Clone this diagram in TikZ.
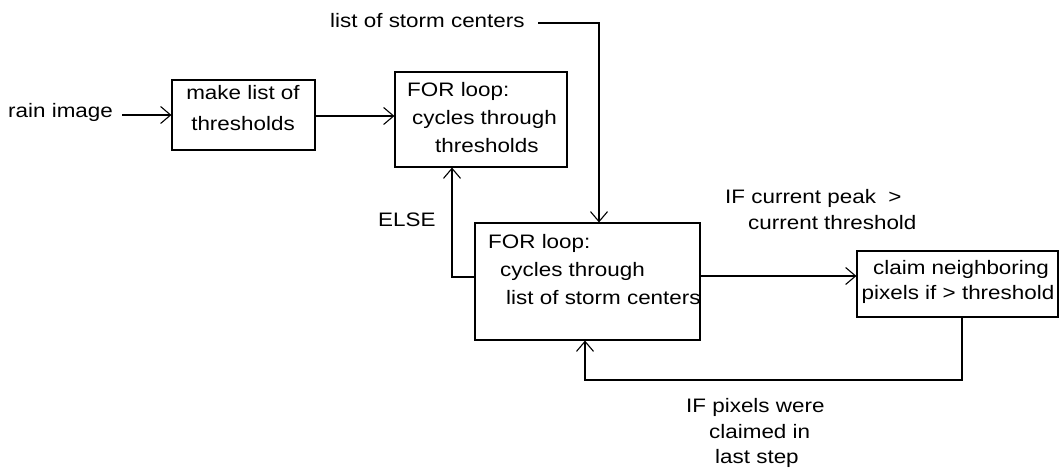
\documentclass[tikz,border=0pt]{standalone}
\usepackage{fontspec}
\setmainfont{Liberation Sans}[FakeStretch=1.15]
\usetikzlibrary{arrows.meta}
\tikzset{
  box/.style={draw, line width=1.1pt, inner sep=0pt},
  txt/.style={anchor=base west, inner sep=0pt, font=\fontsize{19.5}{28}\selectfont},
  ctxt/.style={anchor=base, inner sep=0pt, font=\fontsize{19.5}{28}\selectfont},
  flow/.style={line width=1.1pt, -{Straight Barb[length=10pt,width=17pt,line width=1.1pt]}},
  wire/.style={line width=1.1pt}
}
\begin{document}
\begin{tikzpicture}[x=1pt,y=-1pt]
\useasboundingbox (0,0) rectangle (1060,470);

% process boxes
\node[box, minimum width=143pt, minimum height=70pt] (mk) at (243.5,115) {};
\node[box, minimum width=172pt, minimum height=95pt] (thr) at (481,119.5) {};
\node[box, minimum width=225pt, minimum height=117pt] (sc) at (587.5,281.5) {};
\node[box, minimum width=201pt, minimum height=66pt] (cl) at (957.5,284) {};

% box texts
\node[ctxt] (mk1) at (243,100) {make list of};
\node[ctxt] (mk2) at (243,131) {thresholds};

\node[txt] (th1) at (407,97) {FOR loop:};
\node[txt] (th2) at (412,125) {cycles through};
\node[txt] (th3) at (435,153) {thresholds};

\node[txt] (sc1) at (488,249) {FOR loop:};
\node[txt] (sc2) at (500,277) {cycles through};
\node[txt] (sc3) at (506,305) {list of storm centers};

\node[ctxt] (cl1) at (961,275) {claim neighboring};
\node[ctxt] (cl2) at (958,300) {pixels if > threshold};

% free labels
\node[txt] (rain) at (8,118) {rain image};
\node[txt] (storms) at (330,28) {list of storm centers};
\node[txt] (peak1) at (725,204) {IF current peak\ \ >};
\node[txt] (peak2) at (748,230) {current threshold};
\node[txt] (else) at (378,227) {ELSE};
\node[txt] (pix1) at (686,412) {IF pixels were};
\node[txt] (pix2) at (709,438) {claimed in};
\node[txt] (pix3) at (715,463) {last step};

% connector helpers
\coordinate (rainend) at (122,115);
\coordinate (stormstart) at (538,23);

% connectors
\draw[flow] (rainend) -- (mk.west);
\draw[flow] (mk.east |- 0,116) -- (thr.west |- 0,116);
\draw[flow] (stormstart) -- (599,23) -- (sc.north -| 599,0);
\draw[flow] (sc.west |- 0,277) -- (452,277) -- (thr.south -| 452,0);
\draw[flow] (sc.east |- 0,276) -- (cl.west |- 0,276);
\draw[flow] (cl.south -| 962,0) -- (962,380) -- (585,380) -- (sc.south -| 585,0);
\end{tikzpicture}
\end{document}
